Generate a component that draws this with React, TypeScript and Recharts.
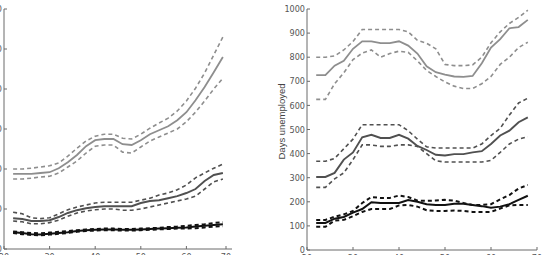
import { LineChart, Line, XAxis, YAxis } from "recharts";

const AGES = [22, 24, 26, 28, 30, 32, 34, 36, 38, 40, 42, 44, 46, 48, 50, 52, 54, 56, 58, 60, 62, 64, 66, 68];
const X_TICKS = [20, 30, 40, 50, 60, 70];

// left panel
const LEFT_TICKS = [0, 100, 200, 300, 400, 500, 600];
const leftHigh = [188, 188, 188, 190, 192, 202, 217, 235, 257, 272, 275, 275, 262, 260, 272, 287, 297, 307, 322, 342, 372, 405, 442, 480];
const leftHighUp = [200, 200, 202, 205, 208, 215, 232, 252, 270, 282, 287, 287, 277, 275, 287, 302, 315, 327, 345, 370, 402, 440, 485, 530];
const leftHighLo = [175, 175, 177, 180, 182, 190, 205, 220, 240, 257, 260, 260, 242, 240, 255, 270, 280, 290, 300, 318, 342, 370, 400, 427];
const leftMid = [77, 75, 70, 70, 72, 80, 90, 97, 102, 105, 107, 107, 107, 107, 115, 120, 122, 127, 132, 140, 150, 170, 185, 190];
const leftMidUp = [92, 88, 78, 76, 78, 88, 98, 105, 110, 115, 117, 117, 117, 117, 122, 127, 135, 140, 148, 160, 178, 190, 202, 212];
const leftMidLo = [70, 68, 63, 63, 66, 72, 82, 90, 95, 98, 100, 100, 97, 97, 100, 105, 110, 115, 120, 125, 132, 150, 168, 175];
const leftLow = [42, 40, 37, 36, 38, 40, 42, 45, 47, 48, 49, 49, 48, 48, 49, 50, 51, 52, 53, 54, 56, 58, 60, 62];
const leftLowUp = [44, 42, 40, 39, 41, 43, 45, 47, 49, 50, 51, 51, 50, 50, 51, 52, 53, 55, 56, 58, 60, 62, 65, 67];
const leftLowLo = [40, 37, 35, 34, 36, 38, 40, 43, 45, 46, 47, 47, 46, 46, 47, 48, 49, 50, 51, 51, 52, 54, 56, 57];

// right panel
const RIGHT_TICKS = [0, 100, 200, 300, 400, 500, 600, 700, 800, 900, 1000];
const rightHigh = [726, 726, 765, 785, 835, 866, 866, 858, 858, 866, 848, 815, 762, 738, 728, 720, 718, 722, 775, 840, 875, 920, 925, 955];
const rightHighUp = [800, 800, 805, 830, 865, 915, 915, 915, 915, 915, 905, 870, 858, 835, 770, 765, 765, 768, 800, 860, 905, 940, 965, 995];
const rightHighLo = [625, 625, 690, 735, 790, 817, 830, 800, 815, 825, 820, 785, 745, 720, 697, 680, 670, 670, 690, 720, 770, 800, 840, 862];
const rightMid = [303, 303, 320, 375, 405, 468, 478, 465, 465, 478, 462, 432, 415, 395, 392, 398, 398, 405, 410, 440, 475, 495, 530, 550];
const rightMidUp = [368, 368, 380, 420, 460, 520, 520, 520, 520, 520, 495, 460, 428, 423, 423, 423, 423, 423, 440, 475, 505, 560, 610, 630];
const rightMidLo = [260, 260, 295, 320, 375, 436, 436, 430, 430, 436, 436, 430, 400, 370, 365, 365, 365, 365, 365, 372, 405, 440, 460, 470];
const rightLow = [112, 112, 130, 137, 155, 170, 198, 195, 195, 195, 207, 200, 190, 187, 187, 192, 192, 187, 182, 175, 180, 190, 208, 225];
const rightLowUp = [125, 125, 138, 148, 162, 195, 220, 216, 216, 226, 220, 205, 204, 205, 208, 205, 195, 187, 187, 190, 210, 228, 255, 270];
const rightLowLo = [96, 96, 122, 125, 140, 158, 170, 170, 170, 185, 187, 180, 165, 162, 162, 164, 162, 158, 158, 158, 172, 185, 187, 187];

const FONT = "'Liberation Sans Narrow', 'DejaVu Sans Condensed', sans-serif";
const AXIS = "#6b6b6b";

const leftData = AGES.map((age, i) => ({
  age,
  hi: leftHigh[i], hiU: leftHighUp[i], hiL: leftHighLo[i],
  mid: leftMid[i], midU: leftMidUp[i], midL: leftMidLo[i],
  lo: leftLow[i], loU: leftLowUp[i], loL: leftLowLo[i],
}));

const rightData = AGES.map((age, i) => ({
  age,
  hi: rightHigh[i], hiU: rightHighUp[i], hiL: rightHighLo[i],
  mid: rightMid[i], midU: rightMidUp[i], midL: rightMidLo[i],
  lo: rightLow[i], loU: rightLowUp[i], loL: rightLowLo[i],
}));

function XTick(props: any) {
  const { x, y, payload } = props;
  const ay = y - 5;
  return (
    <g>
      <line x1={x} x2={x} y1={ay} y2={ay - 3} stroke={AXIS} />
      <text x={x} y={y} dy="0.71em" textAnchor="middle" fill="#555" fontSize={9} fontFamily={FONT}>
        {payload.value}
      </text>
    </g>
  );
}

function YTick(props: any) {
  const { x, y, payload } = props;
  const ax = x + 2;
  return (
    <g>
      <line x1={ax} x2={ax + 3} y1={y} y2={y} stroke={AXIS} />
      <text x={x} y={y} dy="0.355em" textAnchor="end" fill="#555" fontSize={9} fontFamily={FONT}>
        {payload.value}
      </text>
    </g>
  );
}

function Series() {
  return [
    <Line key="hiU" dataKey="hiU" stroke="#8e8e8e" strokeWidth={1.6} strokeDasharray="4 3" dot={false} isAnimationActive={false} />,
    <Line key="hiL" dataKey="hiL" stroke="#8e8e8e" strokeWidth={1.6} strokeDasharray="4 3" dot={false} isAnimationActive={false} />,
    <Line key="hi" dataKey="hi" stroke="#8e8e8e" strokeWidth={1.8} dot={false} isAnimationActive={false} />,
    <Line key="midU" dataKey="midU" stroke="#505050" strokeWidth={1.6} strokeDasharray="4 3" dot={false} isAnimationActive={false} />,
    <Line key="midL" dataKey="midL" stroke="#505050" strokeWidth={1.6} strokeDasharray="4 3" dot={false} isAnimationActive={false} />,
    <Line key="mid" dataKey="mid" stroke="#505050" strokeWidth={1.9} dot={false} isAnimationActive={false} />,
    <Line key="loU" dataKey="loU" stroke="#111" strokeWidth={2} strokeDasharray="4 3" dot={false} isAnimationActive={false} />,
    <Line key="loL" dataKey="loL" stroke="#111" strokeWidth={2} strokeDasharray="4 3" dot={false} isAnimationActive={false} />,
    <Line key="lo" dataKey="lo" stroke="#111" strokeWidth={2} dot={false} isAnimationActive={false} />,
  ];
}

export default function App() {
  return (
    <div style={{ position: "absolute", left: 0, top: 0, width: 546, height: 255, overflow: "hidden", background: "#fff" }}>
      <div style={{ position: "absolute", left: -26, top: 0 }}>
        <LineChart width={260} height={280} data={leftData} margin={{ top: 9, right: 2, left: 0, bottom: 0 }}>
          <XAxis
            dataKey="age" type="number" domain={[20, 70]} ticks={X_TICKS} height={31}
            tickSize={0} tickMargin={5} tickLine={false} stroke={AXIS} tick={<XTick />}
          />
          <YAxis
            type="number" domain={[0, 600]} ticks={LEFT_TICKS} width={30}
            tickSize={0} tickMargin={2} tickLine={false} stroke={AXIS} tick={<YTick />}
          />
          {Series()}
        </LineChart>
      </div>
      <div style={{ position: "absolute", left: 267, top: 0 }}>
        <LineChart width={280} height={280} data={rightData} margin={{ top: 9, right: 10, left: 0, bottom: 0 }}>
          <XAxis
            dataKey="age" type="number" domain={[20, 70]} ticks={X_TICKS} height={30}
            tickSize={0} tickMargin={5} tickLine={false} stroke={AXIS} tick={<XTick />}
          />
          <YAxis
            type="number" domain={[0, 1000]} ticks={RIGHT_TICKS} width={40}
            tickSize={0} tickMargin={2} tickLine={false} stroke={AXIS} tick={<YTick />}
            label={{
              value: "Days unemployed", angle: -90, position: "insideLeft", offset: 15, dy: -8,
              style: { fontSize: 9.5, fill: "#444", fontFamily: "'Liberation Sans', Arial, sans-serif", textAnchor: "middle" },
            }}
          />
          {Series()}
        </LineChart>
      </div>
    </div>
  );
}
